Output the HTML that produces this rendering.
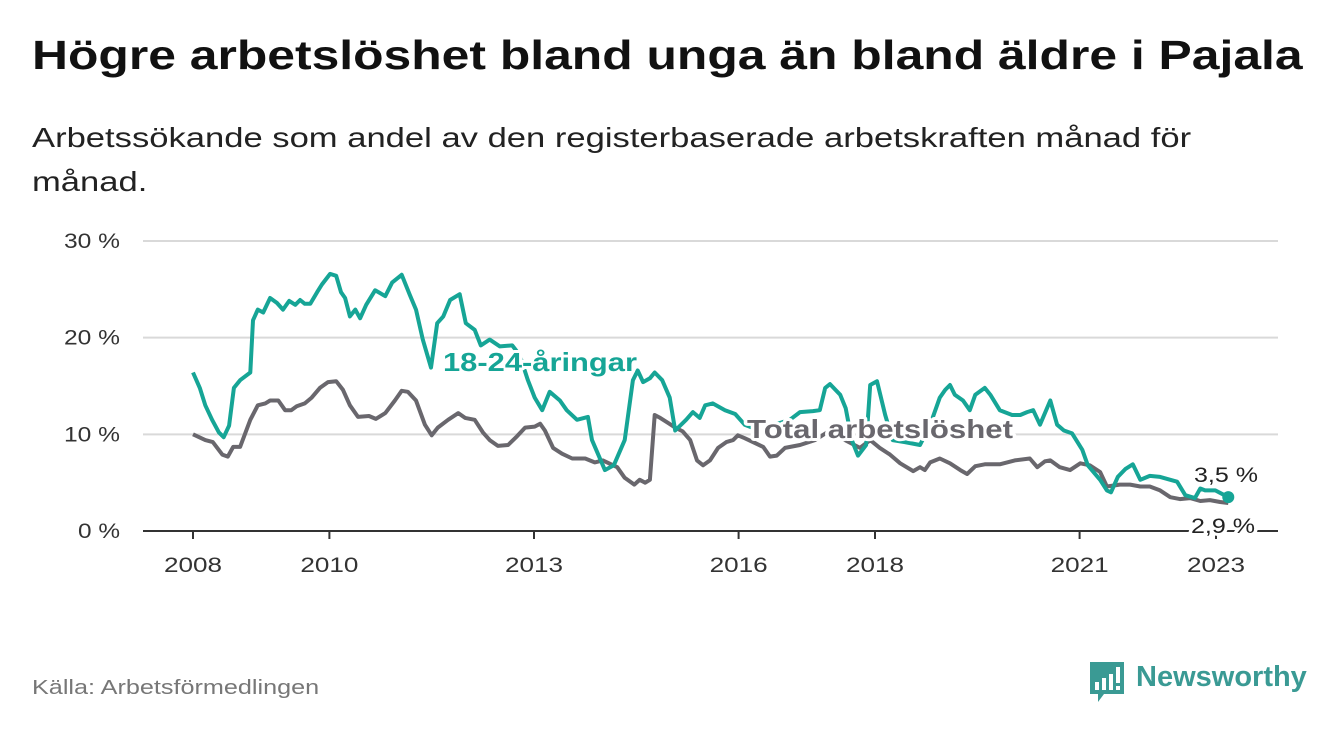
<!DOCTYPE html>
<html><head><meta charset="utf-8">
<style>
body{margin:0;width:1340px;height:734px;background:#fff;overflow:hidden;font-family:"Liberation Sans",sans-serif;}
#title{position:absolute;left:32px;top:32px;font-size:41px;font-weight:bold;color:#111;margin:0;white-space:nowrap;transform:scaleX(1.215);transform-origin:0 0;}
#sub{position:absolute;left:32px;top:116px;font-size:28px;color:#222;line-height:44px;white-space:nowrap;transform:scaleX(1.235);transform-origin:0 0;}
#src{position:absolute;left:32px;top:677px;font-size:20px;color:#777;transform:scaleX(1.26);transform-origin:0 0;white-space:nowrap;}
#logo{position:absolute;left:1088px;top:660px;}
#logo-text{position:absolute;left:1136px;top:661px;font-size:29px;font-weight:bold;color:#3a9a94;}
svg{position:absolute;left:0;top:0;}
</style></head><body>
<div id="title">Högre arbetslöshet bland unga än bland äldre i Pajala</div>
<div id="sub">Arbetssökande som andel av den registerbaserade arbetskraften månad för<br>månad.</div>
<svg id="chart" width="1340" height="734"></svg>
<div id="src">Källa: Arbetsförmedlingen</div>
<svg id="logo" width="40" height="44"><path d="M2 2h34v32h-20l-6 8v-8h-8z" fill="#3a9a94"/><rect x="7" y="22" width="4" height="8" fill="#fff"/><rect x="14" y="18" width="4" height="12" fill="#fff"/><rect x="21" y="14" width="4" height="16" fill="#fff"/><rect x="28" y="7" width="4" height="16" fill="#fff"/><rect x="28" y="26" width="4" height="4" fill="#fff"/></svg>
<div id="logo-text">Newsworthy</div>
<script>
const yTicks=[0,10,20,30];
const xTickYears=[2008,2010,2013,2016,2018,2021,2023];
const youthDates=[2008.00,2008.10,2008.18,2008.28,2008.38,2008.45,2008.53,2008.60,2008.69,2008.84,2008.88,2008.95,2009.03,2009.13,2009.23,2009.32,2009.41,2009.50,2009.57,2009.64,2009.72,2009.82,2009.89,2010.01,2010.10,2010.17,2010.23,2010.30,2010.38,2010.45,2010.54,2010.67,2010.82,2010.92,2011.06,2011.18,2011.27,2011.37,2011.49,2011.58,2011.67,2011.77,2011.91,2012.00,2012.13,2012.22,2012.35,2012.50,2012.68,2012.79,2012.91,2013.01,2013.12,2013.23,2013.38,2013.48,2013.63,2013.79,2013.85,2014.04,2014.17,2014.33,2014.45,2014.52,2014.60,2014.70,2014.77,2014.88,2014.99,2015.07,2015.23,2015.33,2015.43,2015.51,2015.62,2015.80,2015.95,2016.09,2016.31,2016.53,2016.75,2016.90,2017.09,2017.19,2017.27,2017.34,2017.49,2017.57,2017.66,2017.75,2017.87,2017.93,2018.03,2018.15,2018.26,2018.44,2018.66,2018.81,2018.95,2019.03,2019.10,2019.17,2019.29,2019.39,2019.47,2019.61,2019.69,2019.83,2020.01,2020.13,2020.23,2020.32,2020.42,2020.57,2020.67,2020.77,2020.89,2021.04,2021.12,2021.30,2021.40,2021.46,2021.56,2021.67,2021.78,2021.89,2022.03,2022.18,2022.33,2022.43,2022.55,2022.69,2022.77,2022.84,2022.99,2023.18];
const youthValues=[16.4,14.8,13.0,11.5,10.2,9.7,10.9,14.8,15.6,16.4,21.8,22.9,22.6,24.1,23.6,22.9,23.8,23.4,23.9,23.5,23.5,24.7,25.5,26.6,26.4,24.7,24.1,22.2,22.9,22.0,23.4,24.9,24.3,25.7,26.5,24.4,22.9,19.8,16.9,21.5,22.2,23.9,24.5,21.5,20.8,19.2,19.8,19.1,19.2,18.2,15.6,13.8,12.5,14.4,13.5,12.5,11.5,11.8,9.4,6.3,6.8,9.4,15.6,16.6,15.4,15.8,16.4,15.6,13.8,10.4,11.5,12.3,11.7,13.0,13.2,12.5,12.1,11.0,10.4,11.0,11.5,12.3,12.4,12.5,14.8,15.2,14.1,12.7,9.4,7.8,8.9,15.1,15.5,12.0,9.4,9.2,8.9,11.0,13.8,14.6,15.1,14.1,13.5,12.5,14.1,14.8,14.1,12.5,12.0,12.0,12.3,12.5,11.0,13.5,11.0,10.4,10.1,8.4,6.8,5.3,4.2,4.0,5.6,6.4,6.9,5.3,5.7,5.6,5.3,5.1,3.7,3.4,4.4,4.2,4.2,3.5];
const totalDates=[2008.00,2008.18,2008.29,2008.43,2008.51,2008.59,2008.69,2008.84,2008.95,2009.06,2009.13,2009.25,2009.35,2009.44,2009.52,2009.64,2009.74,2009.86,2009.98,2010.10,2010.20,2010.30,2010.42,2010.58,2010.68,2010.82,2010.96,2011.06,2011.15,2011.27,2011.40,2011.50,2011.59,2011.74,2011.89,2011.99,2012.13,2012.25,2012.35,2012.47,2012.62,2012.75,2012.87,2013.01,2013.09,2013.16,2013.28,2013.41,2013.56,2013.75,2013.89,2014.01,2014.13,2014.22,2014.33,2014.47,2014.55,2014.63,2014.70,2014.77,2014.85,2014.96,2015.07,2015.18,2015.29,2015.39,2015.48,2015.58,2015.70,2015.82,2015.92,2015.99,2016.09,2016.24,2016.36,2016.46,2016.56,2016.68,2016.90,2017.12,2017.34,2017.56,2017.78,2017.93,2018.07,2018.22,2018.37,2018.56,2018.66,2018.73,2018.81,2018.95,2019.10,2019.25,2019.35,2019.47,2019.61,2019.83,2020.05,2020.27,2020.38,2020.49,2020.57,2020.71,2020.86,2021.01,2021.15,2021.30,2021.40,2021.59,2021.74,2021.89,2022.03,2022.18,2022.33,2022.47,2022.62,2022.77,2022.91,2023.06,2023.18];
const totalValues=[10.0,9.4,9.2,7.9,7.7,8.7,8.7,11.5,13.0,13.2,13.5,13.5,12.5,12.5,12.9,13.2,13.8,14.8,15.4,15.5,14.6,13.0,11.8,11.9,11.6,12.2,13.5,14.5,14.4,13.5,11.0,9.9,10.7,11.5,12.2,11.7,11.5,10.2,9.4,8.8,8.9,9.8,10.7,10.8,11.1,10.4,8.6,8.0,7.5,7.5,7.1,7.3,6.9,6.6,5.5,4.8,5.3,5.0,5.3,12.0,11.7,11.2,10.7,10.3,9.4,7.3,6.8,7.3,8.6,9.2,9.4,9.9,9.6,9.1,8.7,7.7,7.8,8.6,8.9,9.4,10.4,9.4,8.6,9.4,8.6,7.9,7.0,6.2,6.6,6.3,7.1,7.5,7.0,6.3,5.9,6.7,6.9,6.9,7.3,7.5,6.6,7.2,7.3,6.6,6.3,7.0,6.8,6.1,4.6,4.8,4.8,4.6,4.6,4.2,3.5,3.3,3.4,3.1,3.2,3.0,2.9];

const NS="http://www.w3.org/2000/svg";
const svg=document.getElementById('chart');
const X0=143,X1=1278,Y0=531,PPU=9.667;
function sx(yr){return 193+(yr-2008)*68.2;}
function sy(v){return Y0-v*PPU;}
function mk(tag,attrs,parent){const e=document.createElementNS(NS,tag);for(const k in attrs)e.setAttribute(k,attrs[k]);(parent||svg).appendChild(e);return e;}

yTicks.forEach(t=>{
  if(t>0){const g=mk('line',{x1:X0,x2:X1,y1:sy(t),y2:sy(t),stroke:'#d9d9d9','stroke-width':2});
  
  }
  const l=mk('text',{x:120,y:sy(t)+7,'text-anchor':'end','font-size':21,fill:'#333','font-family':'Liberation Sans, sans-serif',textLength:t>0?56:42,lengthAdjust:'spacingAndGlyphs'});
  l.textContent=t+' %';
  
  
});
const ax=mk('line',{x1:X0,x2:X1,y1:Y0,y2:Y0,stroke:'#333','stroke-width':2});


xTickYears.forEach(yr=>{
  const tk=mk('line',{x1:sx(yr),x2:sx(yr),y1:Y0,y2:Y0+8,stroke:'#333','stroke-width':2});
  
  
  const l=mk('text',{x:sx(yr),y:572,'text-anchor':'middle','font-size':21,fill:'#333','font-family':'Liberation Sans, sans-serif',textLength:58,lengthAdjust:'spacingAndGlyphs'});
  l.textContent=yr;
  
  
});
function pts(d,v){return d.map((x,i)=>sx(x).toFixed(1)+','+sy(v[i]).toFixed(1)).join(' ');}
const tl=mk('polyline',{points:pts(totalDates,totalValues),fill:'none',stroke:'#69676d','stroke-width':4,'stroke-linejoin':'round'});


const yl=mk('polyline',{points:pts(youthDates,youthValues),fill:'none',stroke:'#16a596','stroke-width':4,'stroke-linejoin':'round'});


const dot=mk('circle',{cx:sx(youthDates[youthDates.length-1]),cy:sy(youthValues[youthValues.length-1]),r:6,fill:'#16a596'});



function lab(txt,x,y,fill,size,weight,len,name){
  const t=mk('text',{x:x,y:y,fill:fill,'font-size':size,'font-weight':weight,stroke:'#fff','stroke-width':6,'paint-order':'stroke','stroke-linejoin':'round','font-family':'Liberation Sans, sans-serif',textLength:len,lengthAdjust:'spacingAndGlyphs'});
  t.textContent=txt;
  
  
}
lab('18-24-åringar',443,371,'#16a596',26,'bold',194,'youth-series-label');
lab('Total arbetslöshet',747,438,'#69676d',26,'bold',266,'total-series-label');
lab('3,5 %',1194,482,'#222',21,'normal',64,'youth-end-value');
lab('2,9 %',1191,533,'#222',21,'normal',64,'total-end-value');
</script>
</body></html>
